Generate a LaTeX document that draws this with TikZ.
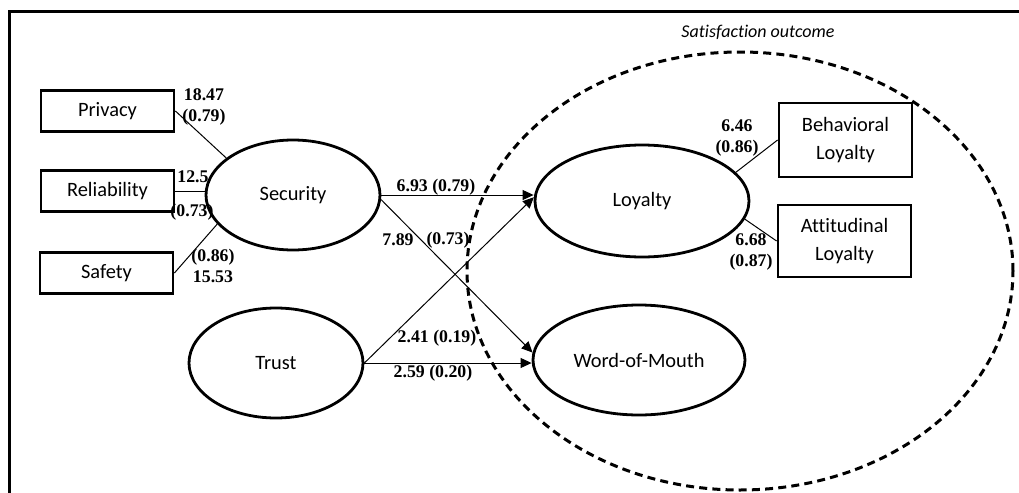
\documentclass[tikz,border=0pt]{standalone}
\usepackage{fontspec}
\setmainfont{Carlito}[Ligatures=CommonOff]
\newfontfamily\numfont{Liberation Serif}
\usetikzlibrary{shapes.geometric,arrows.meta}
\newcommand{\estfont}{\numfont\bfseries\fontsize{8.9}{10.4}\selectfont}

\begin{document}
\begin{tikzpicture}[x=0.5pt, y=-0.5pt,
    construct/.style={draw, ellipse, line width=1.4pt, inner sep=0pt, minimum width=87pt, minimum height=55pt, font=\fontsize{10.2}{12}\selectfont},
    indicator/.style={draw, rectangle, line width=1.4pt, inner sep=0pt, minimum width=66.5pt, minimum height=20.5pt, font=\fontsize{10.2}{12}\selectfont, align=center},
    path/.style={black, line width=0.5pt},
    effect/.style={path, -{Triangle[length=5.5pt, width=5pt]}},
    coef/.style={inner sep=0pt, align=center, font=\estfont}]
    \useasboundingbox (0,0) rectangle (1019,493);
    \draw[line width=1.5pt] (9,500) -- (9,11) -- (1025,11);
    \node[draw, ellipse, dashed, line width=1.5pt, dash pattern=on 4pt off 2.6pt, minimum width=273pt, minimum height=219pt] (outcome) at (740,271) {};
    \node[font=\itshape\fontsize{9}{10}\selectfont] (outcomelabel) at (758,32) {Satisfaction outcome};
        \node[indicator] (privacy) at (107.5,111) {Privacy};
        \node[indicator] (reliability) at (107.5,191) {Reliability};
        \node[indicator] (safety) at (106.5,273) {Safety};
        \node[construct] (security) at (293,195) {Security};
        \node[construct] (trust) at (276,363) {Trust};
        \node[construct, minimum width=107pt, minimum height=56pt] (loyalty) at (642,201) {Loyalty};
        \node[construct, minimum width=106pt, minimum height=55pt] (wom) at (639,360) {Word-of-Mouth};
        \node[indicator, minimum height=37pt] (behavioral) at (845.5,140) {Behavioral\\[2pt]Loyalty};
        \node[indicator, minimum height=36pt] (attitudinal) at (844.5,241) {Attitudinal\\[2pt]Loyalty};
        \draw[path] (privacy.east) -- (security.151);
        \draw[path] (reliability.east) -- (reliability.east -| security.west);
        \draw[path] (safety.east) -- (security.201);
        \draw[effect] (security.east) -- (security.east -| loyalty.west);
        \draw[effect] (security.-3) -- (wom.176);
        \draw[effect] (trust.east) -- (loyalty.178);
        \draw[effect] (trust.east) -- (trust.east -| wom.west);
        \draw[path] (loyalty.17) -- (behavioral.west);
        \draw[path] (loyalty.-10) -- (attitudinal.west);
        \node[coef] (privcoef) at (204,107) {18.47\\(0.79)};
        \node[coef] (relicoef) at (193,177) {12.5};
        \node[coef] (relise) at (192,212) {(0.73)};
        \node[coef] (safecoef) at (213,266) {(0.86)\\15.53};
        \node[coef] (seclocoef) at (436,187) {6.93 (0.79)};
        \node[coef] (secwomcoef) at (398,240) {7.89};
        \node[coef] (secwomse) at (448,240) {(0.73)};
        \node[coef] (trlocoef) at (437,338) {2.41 (0.19)};
        \node[coef] (trwomcoef) at (433,373) {2.59 (0.20)};
        \node[coef] (behcoef) at (737,138) {6.46\\(0.86)};
        \node[coef] (attcoef) at (751,252) {6.68\\(0.87)};
\end{tikzpicture}
\end{document}
